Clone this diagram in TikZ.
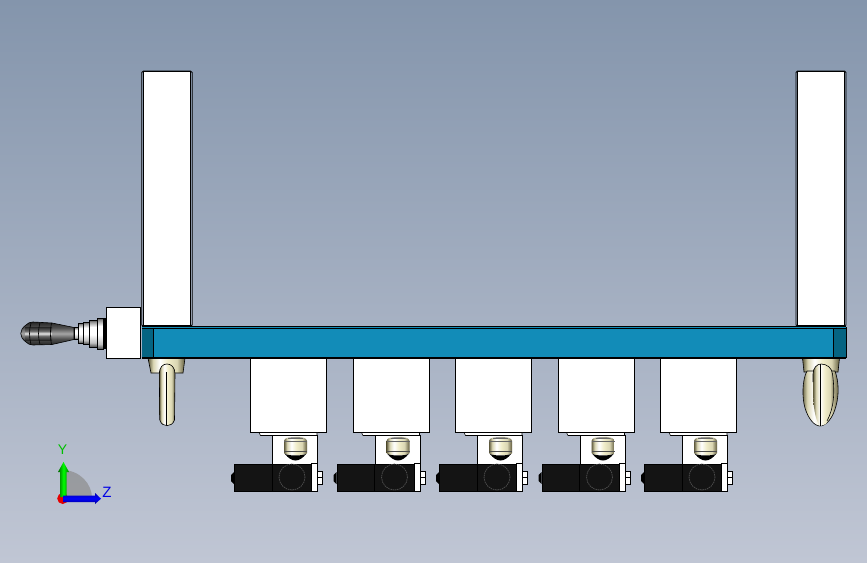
\documentclass[tikz,border=0pt]{standalone}
\usepackage{fontspec}
\setmainfont{Liberation Sans}
\usetikzlibrary{arrows.meta}
\definecolor{bgtop}{RGB}{132,149,172}
\definecolor{bgbot}{RGB}{192,198,212}
\definecolor{tealA}{RGB}{18,140,184}
\definecolor{tealB}{RGB}{5,100,130}
\definecolor{ivory}{RGB}{240,236,200}
\definecolor{olive}{RGB}{95,90,60}
\definecolor{blk}{RGB}{20,20,20}
\pgfdeclarehorizontalshading{metalh}{100bp}{color(0bp)=(olive); color(25bp)=(olive); color(32bp)=(ivory!85!olive); color(41bp)=(white); color(52bp)=(ivory); color(64bp)=(ivory!85!olive); color(75bp)=(olive); color(100bp)=(olive)}
\pgfdeclareverticalshading{ringv}{100bp}{color(0bp)=(black!70); color(25bp)=(black!70); color(33bp)=(black!25); color(48bp)=(white); color(62bp)=(white); color(72bp)=(black!45); color(75bp)=(black!70); color(100bp)=(black!70)}
\pgfdeclareverticalshading{gripv}{100bp}{color(0bp)=(black!85); color(25bp)=(black!85); color(38bp)=(black!70); color(50bp)=(black!35); color(62bp)=(black!68); color(75bp)=(black!85); color(100bp)=(black!85)}
\pgfdeclareverticalshading{griph}{100bp}{color(0bp)=(black!85); color(25bp)=(black!85); color(40bp)=(black!60); color(50bp)=(white!90!black); color(60bp)=(black!60); color(75bp)=(black!85); color(100bp)=(black!85)}
\tikzset{
  outl/.style={draw=black,line width=.9pt},
  thin outl/.style={draw=black,line width=.6pt},
  whitebox/.style={outl,fill=white},
  blackbox/.style={draw=black,line width=.8pt,fill=blk},
  metalH/.style={shading=metalh},
  ringV/.style={shading=ringv},
  gripV/.style={shading=gripv},
  gripBright/.style={shading=griph},
}
\begin{document}
\begin{tikzpicture}[x=1pt,y=-1pt]
\useasboundingbox (0,0) rectangle (867,562);
\fill[top color=bgtop,bottom color=bgbot,draw=none] (0,0) rectangle (867,562);

% uprights
\draw[outl] (141.7,72.5) -- (143.5,71) -- (190.5,71) -- (192.2,72.5) -- (192.2,325) -- (190.5,326) -- (143.5,326) -- (141.7,325) -- cycle;
\path[whitebox] (143.3,71) rectangle (190.7,325);
\draw[outl] (796,72.5) -- (797.5,71) -- (844.5,71) -- (846,72.5) -- (846,325) -- (844.5,326) -- (797.5,326) -- (796,325) -- cycle;
\path[whitebox] (797.5,71) rectangle (844.5,325);

% right handle
\path[metalH,thin outl] (802.5,358) -- (839.5,358) -- (838,372) -- (804,372) -- cycle;
\path[metalH,thin outl] (807,371) .. controls (802,380) and (802,398) .. (805,408)
  .. controls (808,418) and (814,426) .. (820,426)
  .. controls (826,426) and (833,418) .. (836,406)
  .. controls (839,395) and (839,382) .. (835,371) -- cycle;
\path[metalH,draw=none] (813,374) .. controls (813,368) and (817,364) .. (821,364)
  .. controls (827,364) and (832,368) .. (832.5,374)
  .. controls (835,392) and (833,410) .. (826,424)
  -- (820,426) .. controls (815,420) and (813,405) .. (813,390) -- cycle;
\draw[thin outl] (813,382) -- (813,374) .. controls (813,368) and (817,364) .. (821,364)
  .. controls (827,364) and (832,368) .. (832.5,374)
  .. controls (835,392) and (834,408) .. (827,421);
\draw[outl] (820,364) -- (820,426);

% left handle
\path[metalH,thin outl] (148,358) -- (185,358) -- (183,373) -- (151,373) -- cycle;
\path[metalH,thin outl] (159.3,374) .. controls (159.3,367) and (163,364) .. (167,364)
  .. controls (171,364) and (175,367) .. (175,374)
  -- (174.5,420) .. controls (173,424) and (170,425.7) .. (167,425.7)
  .. controls (164,425.7) and (161,424) .. (159.8,420) -- cycle;
\draw[thin outl] (165.8,372) -- (165.8,425);

% beam
\fill[tealA] (142,327) rectangle (846,358);
\fill[tealB] (142,327.5) rectangle (153.5,358);
\fill[tealB] (833.5,327.5) rectangle (846,358);
\draw[thin outl] (142,328.3) -- (846,328.3);
\draw[thin outl] (142,326.3) -- (846,326.3);
\draw[draw=black,line width=1.4pt] (142,358) -- (846,358);
\draw[outl] (846,327) -- (846,358);
\draw[thin outl] (153.5,328) -- (153.5,358);
\draw[thin outl] (833.5,328) -- (833.5,358);

% lever
\path[gripV,thin outl] (26,325) .. controls (28,323) and (30,322) .. (33,322)
  -- (52,323) -- (74,327.5) -- (74,339.5) -- (52,344.5) -- (33,345)
  .. controls (30,345) and (28,344) .. (26,342)
  .. controls (19,337) and (19,330) .. (26,325) -- cycle;
\path[gripBright] (25,327) -- (52,327) -- (52,340) -- (25,340) -- cycle;
\draw[thin outl] (31,323) .. controls (29,330) and (29,337) .. (31,344.5);
\draw[thin outl] (40,322.5) .. controls (38,330) and (38,337) .. (40,344.5);
\draw[thin outl] (51.5,323) .. controls (50,330) and (50,337) .. (51.5,344.5);
\path[ringV,thin outl] (74,327) rectangle (78,339);
\path[ringV,thin outl] (78,323) rectangle (83,343);
\path[ringV,thin outl] (83,322) rectangle (89,344);
\path[ringV,thin outl] (89,320) rectangle (97,347);
\path[ringV,thin outl] (97,318) rectangle (103,349);
\fill[black] (103,318) rectangle (107,349);
\path[whitebox] (106.7,307.5) rectangle (140.5,358.5);

% repeated units
\foreach \dx/\n in {0/a,102.5/b,205/c,307.5/d,410/e}{
  \begin{scope}[xshift=\dx pt]
    \path[whitebox] (250.5,358.5) rectangle (326.5,432.5);
    \path[fill=white,thin outl] (259,432.5) -- (260.5,435.5) -- (317,435.5) -- (317,432.5) -- cycle;
    \path[whitebox] (272.5,435) rectangle (317.5,464);
    \path[metalH,draw=none] (284,441) .. controls (284,435) and (307,435) .. (307,441)
      -- (307,453) .. controls (307,456) and (284,456) .. (284,453) -- cycle;
    \fill[black!60] (288,438) .. controls (292,437) and (299,437) .. (303,438) -- (303,438.8) -- (288,438.8) -- cycle;
    \fill[black!60] (284,441.2) rectangle (307,442);
    \fill[black!70] (284,451.3) rectangle (307,452);
    \fill[black] (285,454) .. controls (290,456) and (301,456) .. (306,454)
      .. controls (303,458) and (299,460.5) .. (295.5,460.5)
      .. controls (292,460.5) and (288,458) .. (285,454) -- cycle;
    \fill[black] (231,475) -- (234,472) -- (234,484) -- (231,481) -- cycle;
    \path[blackbox] (234.5,464) rectangle (272,491);
    \path[blackbox] (272,464) rectangle (311.5,491);
    \draw[draw=black!70,line width=.8pt,dash pattern=on 1.5pt off .8pt] (292,477) circle (13);
    \path[whitebox] (311.5,463.5) rectangle (317.5,491.5);
    \path[fill=white,thin outl] (317.5,471.5) rectangle (322.5,484);
    \draw[thin outl] (317.5,477.5) -- (322.5,477.5);
  \end{scope}
}

% triad
\fill[black!45,opacity=.7] (62,498) -- (62,470)
  .. controls (80,470) and (92,484) .. (92,498) -- cycle;
\fill[red!90!black] (62.7,498.5) circle (5.5);
\path[left color=green!40!black,right color=green!45!black,middle color=green,draw=none]
  (60,497) -- (60,472) -- (58,472) -- (63.5,462) -- (69,472) -- (66.5,472) -- (66.5,497) -- cycle;
\path[top color=blue!70!black,bottom color=blue!55!black,middle color=blue,draw=none]
  (63,495.5) -- (95,495.5) -- (95,493) -- (101,498.7) -- (95,504) -- (95,502) -- (63,502) -- cycle;
\node[font=\fontsize{14}{14}\selectfont,text=green!75!black,inner sep=0pt] (ylab) at (62.5,449.5) {Y};
\node[font=\fontsize{15}{15}\selectfont,text=blue!90!black,inner sep=0pt] (zlab) at (107,492.5) {Z};
\end{tikzpicture}
\end{document}
